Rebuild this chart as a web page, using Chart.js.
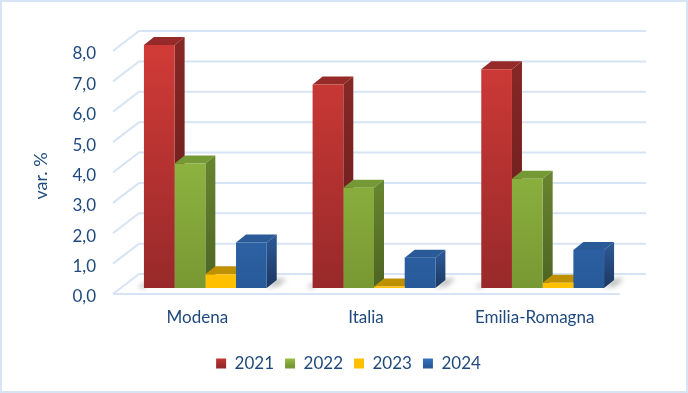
<!DOCTYPE html>
<html lang="it">
<head>
<meta charset="UTF-8">
<title>var. %</title>
<style>
  html, body { margin: 0; padding: 0; background: #fff; }
  #box { width: 688px; height: 393px; }
</style>
<script src="https://cdn.jsdelivr.net/npm/chart.js"></script>
</head>
<body>
<div id="box"><canvas id="chart" width="688" height="393"></canvas></div>
<script>
const categories = ["Modena", "Italia", "Emilia-Romagna"];
const years = ["2021", "2022", "2023", "2024"];
const values2021 = [8.0, 6.7, 7.2];
const values2022 = [4.1, 3.3, 3.6];
const values2023 = [0.45, 0.05, 0.17];
const values2024 = [1.5, 1.0, 1.25];
const yTicks = [0, 1, 2, 3, 4, 5, 6, 7, 8];

const textColor = "#1f497d";
const gridColor = "#d6e4f4";
const font = "Lato, sans-serif";

// colori: fronte (alto, basso), fianco (alto, basso), tetto
const palette = [
  { front: ["#d13b37", "#98292a"], side: ["#852725", "#631c1b"], top: "#962a28" },
  { front: ["#a1cb4b", "#789833"], side: ["#66832e", "#4d6423"], top: "#759a35" },
  { front: ["#ffc000", "#ffc000"], side: ["#bf9000", "#bf9000"], top: "#bf9000" },
  { front: ["#3b7dd0", "#285a99"], side: ["#2a5590", "#1b3760"], top: "#2a5a98" }
];

function vGrad(ctx, y0, y1, colors) {
  const g = ctx.createLinearGradient(0, y0, 0, y1);
  g.addColorStop(0, colors[0]);
  g.addColorStop(1, colors[1]);
  return g;
}

function poly(ctx, pts, fill) {
  ctx.fillStyle = fill;
  ctx.beginPath();
  pts.forEach((p, i) => i ? ctx.lineTo(p[0], p[1]) : ctx.moveTo(p[0], p[1]));
  ctx.closePath();
  ctx.fill();
}

// pseudo 3D: griglia, ombre, fianchi e tetti sotto le barre native
const depthPlugin = {
  id: "depth",
  beforeDraw(chart) {
    const ctx = chart.ctx;
    ctx.save();
    ctx.fillStyle = "#fff";
    ctx.fillRect(0, 0, chart.width, chart.height);
    ctx.strokeStyle = gridColor;
    ctx.lineWidth = 2;
    ctx.strokeRect(1, 1, chart.width - 2, chart.height - 2);
    // titolo asse y, in originale non e' centrato sull'asse
    ctx.translate(41, 176);
    ctx.rotate(-Math.PI / 2);
    ctx.fillStyle = textColor;
    ctx.font = "18px " + font;
    ctx.textAlign = "center";
    ctx.textBaseline = "middle";
    ctx.fillText("var. %", 0, 0);
    ctx.restore();
  },
  beforeDatasetsDraw(chart) {
    const ctx = chart.ctx;
    const y = chart.scales.y;
    const l = chart.chartArea.left, r = chart.chartArea.right;
    ctx.save();
    ctx.strokeStyle = gridColor;
    ctx.lineWidth = 2;
    yTicks.forEach((t) => {
      const py = y.getPixelForValue(t);
      ctx.beginPath();
      ctx.moveTo(l - 8, py + 6);
      ctx.lineTo(l + 18, py - 14);
      ctx.lineTo(r + 19, py - 14);
      ctx.stroke();
    });
    const y0 = y.getPixelForValue(0);
    ctx.beginPath();
    ctx.moveTo(l - 8, y0 + 6);
    ctx.lineTo(r - 7, y0 + 6);
    ctx.stroke();

    // ombre a terra
    const firstMeta = chart.getDatasetMeta(0);
    const lastMeta = chart.getDatasetMeta(years.length - 1);
    ctx.filter = "blur(2.5px)";
    categories.forEach((c, i) => {
      const a = firstMeta.data[i], b = lastMeta.data[i];
      const ax = a.x - a.width / 2, bx = b.x + b.width / 2;
      poly(ctx, [[ax + 2, y0], [ax - 6, y0], [ax + 2, y0 - 7]], "rgba(110,110,110,.45)");
      poly(ctx, [[bx, y0], [bx + 12, y0 - 2], [bx + 20, y0 - 10], [bx + 8, y0 - 9]], "rgba(110,110,110,.45)");
    });
    ctx.filter = "none";

    years.forEach((yr, d) => {
      const meta = chart.getDatasetMeta(d);
      const col = palette[d];
      meta.data.forEach((bar) => {
        const x1 = bar.x + bar.width / 2, x0 = bar.x - bar.width / 2;
        const top = bar.y, dx = 10, dy = 8;
        poly(ctx, [[x0, top], [x0 + dx, top - dy], [x1 + dx, top - dy], [x1, top]], col.top);
        poly(ctx, [[x1, top], [x1 + dx, top - dy], [x1 + dx, y0 - dy], [x1, y0]], vGrad(ctx, top, y0, col.side));
      });
    });
    ctx.restore();
  },
  afterLayout(chart) {
    // legenda centrata sulla figura, non sull'area del grafico
    chart.legend.left += 19;
    chart.legend.right += 19;
  }
};

function frontFill(d) {
  return (c) => {
    const area = c.chart.chartArea;
    if (!area) return palette[d].front[0];
    const el = c.element;
    const top = el && el.y !== undefined ? el.y : area.top;
    return vGrad(c.chart.ctx, top, area.bottom, palette[d].front);
  };
}

const seriesValues = [values2021, values2022, values2023, values2024];

new Chart(document.getElementById("chart"), {
  type: "bar",
  data: {
    labels: categories,
    datasets: years.map((yr, d) => ({
      label: yr,
      data: seriesValues[d],
      backgroundColor: frontFill(d),
      borderWidth: 0,
      barPercentage: 1,
      categoryPercentage: 0.728
    }))
  },
  plugins: [depthPlugin],
  options: {
    responsive: false,
    animation: false,
    layout: { padding: { top: 45, left: 32, right: 61, bottom: 11 } },
    plugins: {
      tooltip: { enabled: false },
      legend: {
        position: "bottom",
        labels: {
          boxWidth: 10,
          boxHeight: 10,
          padding: 11,
          color: textColor,
          font: { family: font, size: 17 },
          generateLabels(chart) {
            return years.map((yr, d) => ({
              text: yr,
              fontColor: textColor,
              fillStyle: vGrad(chart.ctx, 356, 366, palette[d].front),
              lineWidth: 0,
              strokeStyle: "transparent",
              datasetIndex: d
            }));
          }
        }
      }
    },
    scales: {
      x: {
        grid: { display: false, drawTicks: false },
        border: { display: false },
        ticks: { color: textColor, font: { family: font, size: 17 }, labelOffset: -8, padding: 19, maxRotation: 0 },
        afterFit(s) { s.height = 56; }
      },
      y: {
        min: 0,
        max: 8,
        grid: { display: false, drawTicks: false },
        border: { display: false },
        afterBuildTicks(s) { s.ticks = yTicks.map((v) => ({ value: v })); },
        ticks: {
          color: textColor,
          font: { family: font, size: 17 },
          padding: 25,
          labelOffset: 9,
          callback: (v) => v.toFixed(1).replace(".", ",")
        },
        afterFit(s) { s.width = 89; }
      }
    }
  }
});
</script>
</body>
</html>
